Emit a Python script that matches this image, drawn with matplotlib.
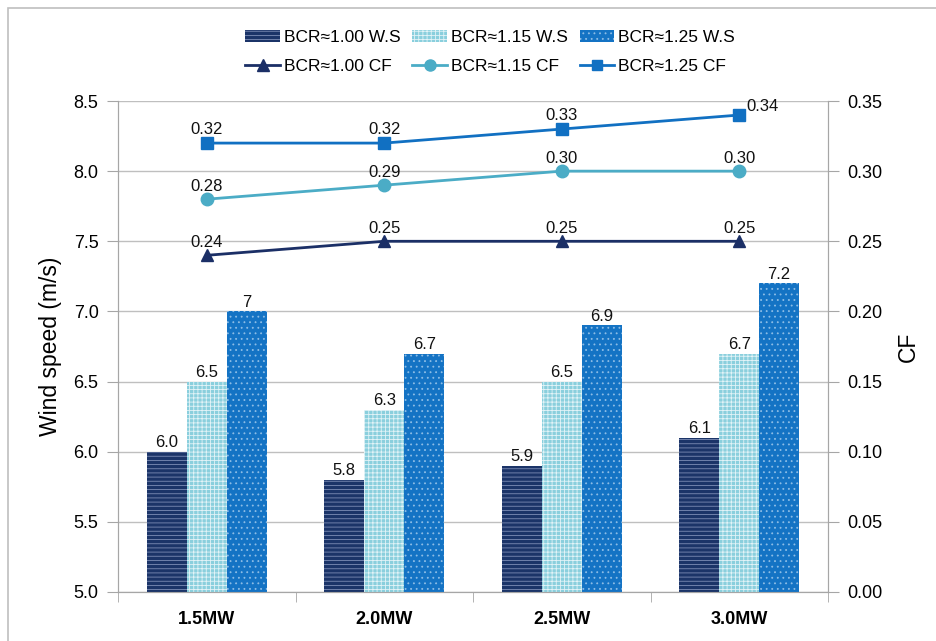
import matplotlib
matplotlib.use("Agg")
import matplotlib.pyplot as plt
import numpy as np
from matplotlib.patches import Rectangle
from matplotlib.lines import Line2D

categories = ["1.5MW", "2.0MW", "2.5MW", "3.0MW"]
ws_100 = [6.0, 5.8, 5.9, 6.1]
ws_115 = [6.5, 6.3, 6.5, 6.7]
ws_125 = [7.0, 6.7, 6.9, 7.2]
ws_lbl_100 = ["6.0", "5.8", "5.9", "6.1"]
ws_lbl_115 = ["6.5", "6.3", "6.5", "6.7"]
ws_lbl_125 = ["7", "6.7", "6.9", "7.2"]
cf_100 = [0.24, 0.25, 0.25, 0.25]
cf_115 = [0.28, 0.29, 0.30, 0.30]
cf_125 = [0.32, 0.32, 0.33, 0.34]

plt.rcParams['font.family'] = ['Liberation Sans', 'DejaVu Sans']
plt.rcParams['hatch.linewidth'] = 0.6

fig = plt.figure(figsize=(9.36, 6.41), dpi=100)
ax = fig.add_axes([118/936, 1-592/641, 710/936, 491/641])
ax2 = ax.twinx()

# figure border
fig.patches.append(Rectangle((8/936, -0.1), 1.2, 1 - 8/641 + 0.1, transform=fig.transFigure,
                             fill=False, edgecolor='#BFBFBF', linewidth=1.2, zorder=0))

x = np.arange(len(categories))
w = 0.225
c1, c2, c3 = '#1B3468', '#8ACFDD', '#1473C4'
b1 = ax.bar(x - w, [v - 5.0 for v in ws_100], w, bottom=5.0, color=c1, edgecolor='#7D8DB5',
            linewidth=0, hatch='----', zorder=3)
b2 = ax.bar(x, [v - 5.0 for v in ws_115], w, bottom=5.0, color=c2, edgecolor='#E2F3F7',
            linewidth=0, hatch='++++', zorder=3)
b3 = ax.bar(x + w, [v - 5.0 for v in ws_125], w, bottom=5.0, color=c3, edgecolor='#8DBDE6',
            linewidth=0, hatch='...', zorder=3)

for xs, vals, lbls in [(x - w, ws_100, ws_lbl_100), (x, ws_115, ws_lbl_115), (x + w, ws_125, ws_lbl_125)]:
    for xi, v, l in zip(xs, vals, lbls):
        ax.text(xi, v + 0.01, l, ha='center', va='bottom', fontsize=12, color='#111111', zorder=5)

ax.set_xlim(-0.5, 3.5)
ax.set_ylim(5.0, 8.5)
ax.set_yticks(np.arange(5.0, 8.51, 0.5))
ax.set_yticklabels([f"{v:.1f}" for v in np.arange(5.0, 8.51, 0.5)], fontsize=13)
ax.set_xticks(x)
ax.set_xticklabels(categories, fontsize=13, fontweight='bold')
ax.tick_params(axis='x', length=0, pad=14)
ax.set_xticks(np.arange(-0.5, 3.6, 1.0), minor=True)
ax.tick_params(axis='x', which='minor', length=7, color='#A6A6A6', direction='out')
ax.tick_params(axis='y', length=8, color='#A6A6A6', direction='out', pad=6)
ax.grid(axis='y', color='#BFBFBF', linewidth=1.0, zorder=0)
ax.set_axisbelow(True)
ax.set_ylabel("Wind speed (m/s)", fontsize=16.5, labelpad=8)

for sp in ['left', 'bottom', 'right']:
    ax.spines[sp].set_color('#A6A6A6')
    ax2.spines[sp].set_color('#A6A6A6')
ax.spines['top'].set_visible(False)
ax2.spines['top'].set_visible(False)

ax2.set_ylim(0, 0.35)
ax2.set_yticks(np.arange(0, 0.351, 0.05))
ax2.set_yticklabels([f"{v:.2f}" for v in np.arange(0, 0.351, 0.05)], fontsize=13)
ax2.tick_params(axis='y', length=8, color='#A6A6A6', direction='out', pad=6)
ax2.set_ylabel("CF", fontsize=16.5, labelpad=10)

l1c, l2c, l3c = '#1B2F66', '#4BACC6', '#1170C2'
ax2.plot(x, cf_100, color=l1c, marker='^', markersize=9, linewidth=2, zorder=4)
ax2.plot(x, cf_115, color=l2c, marker='o', markersize=9, linewidth=2, zorder=4)
ax2.plot(x, cf_125, color=l3c, marker='s', markersize=8, linewidth=2, zorder=4)

for vals in [cf_100, cf_115, cf_125]:
    for i, (xi, v) in enumerate(zip(x, vals)):
        if vals is cf_125 and i == len(vals) - 1:
            ax2.text(xi + 0.04, v + 0.001, f"{v:.2f}", ha='left', va='bottom', fontsize=12, color='#111111', zorder=5)
        else:
            ax2.text(xi, v + 0.004, f"{v:.2f}", ha='center', va='bottom', fontsize=12, color='#111111', zorder=5)

handles = [
    b1, Line2D([], [], color=l1c, marker='^', markersize=8, linewidth=2),
    b2, Line2D([], [], color=l2c, marker='o', markersize=8, linewidth=2),
    b3, Line2D([], [], color=l3c, marker='s', markersize=7, linewidth=2),
]
labels = ["BCR≈1.00 W.S", "BCR≈1.00 CF", "BCR≈1.15 W.S", "BCR≈1.15 CF", "BCR≈1.25 W.S", "BCR≈1.25 CF"]
fig.legend(handles, labels, ncol=3, loc='center', bbox_to_anchor=(490/936, 1 - 52/641),
           frameon=False, fontsize=12.5, handlelength=2.0, handletextpad=0.2, columnspacing=0.7,
           labelspacing=0.8)

fig.savefig("out.png", dpi=100)
